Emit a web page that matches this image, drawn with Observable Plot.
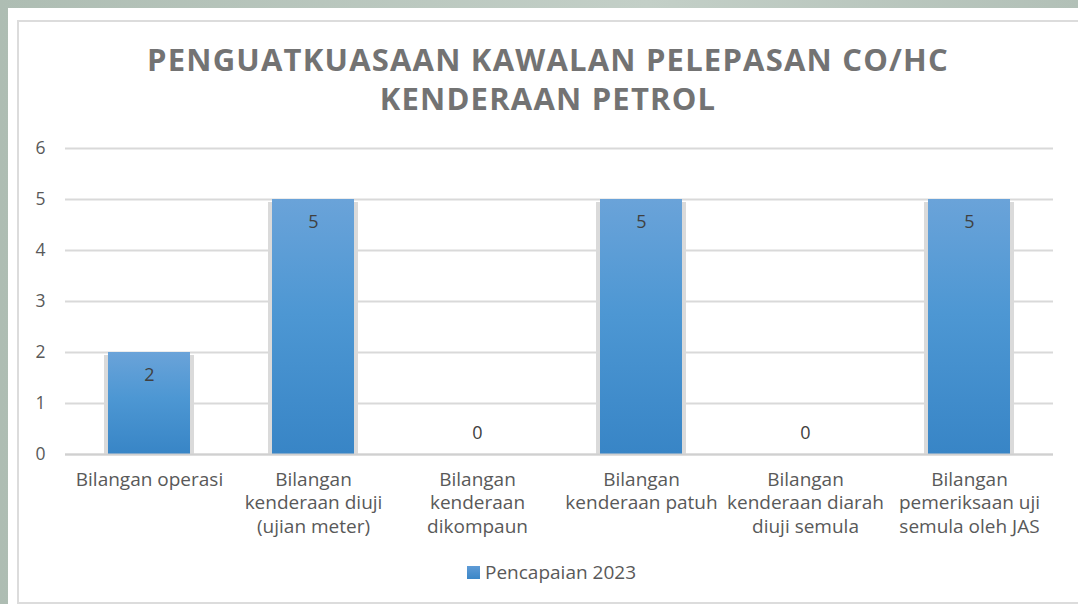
<!DOCTYPE html>
<html>
<head>
<meta charset="utf-8">
<script src="https://cdn.jsdelivr.net/npm/d3@7"></script>
<script src="https://cdn.jsdelivr.net/npm/@observablehq/plot@0.6"></script>
<style>
  html, body { margin: 0; padding: 0; }
  body { width: 1078px; height: 604px; overflow: hidden; position: relative;
         background: linear-gradient(90deg, #aebdb3, #c3cfc7 60%, #b2c0b7); font-family: "Open Sans", sans-serif; }
  #sheet { position: absolute; left: 8px; top: 8px; width: 1080px; height: 600px; background: #fff; }
  #frame { position: absolute; left: 17px; top: 20px; width: 1070px; height: 580px; border: 2px solid #dcdcdc; background: #fff; }
  #title { position: absolute; left: 0; width: 1096px; top: 40px; text-align: center; color: #737373;
           font-weight: 700; font-size: 31px; line-height: 39px; letter-spacing: 1.2px; }
  #chart { position: absolute; left: 0; top: 0; }
  #legend { position: absolute; left: 467px; top: 559px; color: #595959; font-size: 19px; display: flex; align-items: center; }
  #legend span.sw { display: inline-block; width: 13px; height: 13px; margin-right: 5px;
                    background: linear-gradient(#5f9bd6, #3b87c7); }
</style>
</head>
<body>
<div id="sheet"></div>
<div id="frame"></div>
<div id="title">PENGUATKUASAAN KAWALAN PELEPASAN CO/HC<br>KENDERAAN PETROL</div>
<div id="chart"></div>
<div id="legend"><span class="sw"></span>Pencapaian 2023</div>
<script>
const categories = [
  "Bilangan operasi",
  "Bilangan kenderaan diuji (ujian meter)",
  "Bilangan kenderaan dikompaun",
  "Bilangan kenderaan patuh",
  "Bilangan kenderaan diarah diuji semula",
  "Bilangan pemeriksaan uji semula oleh JAS"
];
const tickLabels = [
  "Bilangan operasi",
  "Bilangan\nkenderaan diuji\n(ujian meter)",
  "Bilangan\nkenderaan\ndikompaun",
  "Bilangan\nkenderaan patuh",
  "Bilangan\nkenderaan diarah\ndiuji semula",
  "Bilangan\npemeriksaan uji\nsemula oleh JAS"
];
const values2023 = [2, 5, 0, 5, 0, 5];
const yTicks = [0, 1, 2, 3, 4, 5, 6];

const data = categories.map((c, i) => ({category: c, value: values2023[i]}));
const labelOf = new Map(categories.map((c, i) => [c, tickLabels[i]]));

const chart = Plot.plot({
  width: 1078,
  height: 604,
  marginLeft: 65,
  marginRight: 25,
  marginTop: 148,
  marginBottom: 150,
  style: {background: "transparent", fontFamily: "Open Sans, sans-serif", color: "#595959"},
  x: {domain: categories, paddingInner: 0.5, paddingOuter: 0.25, label: null},
  y: {domain: [0, 6], ticks: yTicks, label: null},
  marks: [
    Plot.ruleY(yTicks, {stroke: "#d9d9d9", strokeWidth: 2}),
    Plot.barY(data, {x: "category", y: "value", fill: "#dadada", insetLeft: -4, insetRight: -4, insetTop: 3}),
    Plot.barY(data, {x: "category", y: "value", fill: "url(#barGrad)"}),
    Plot.ruleY([0], {stroke: "#d0d0d0", strokeWidth: 2}),
    Plot.text(data.filter(d => d.value > 0), {x: "category", y: "value", text: d => String(d.value), dy: 23, fontSize: 18, fill: "#404040"}),
    Plot.text(data.filter(d => d.value === 0), {x: "category", y: "value", text: d => String(d.value), dy: -21, fontSize: 18, fill: "#404040"}),
    Plot.axisY({ticks: yTicks, tickFormat: d3.format("d"), tickSize: 0, tickPadding: 20, fontSize: 17.5, fill: "#595959", label: null}),
    Plot.axisX({tickSize: 0, tickPadding: 14, fontSize: 19, lineHeight: 1.26, fill: "#595959", label: null,
                tickFormat: d => labelOf.get(d), textAnchor: "middle", lineAnchor: "top"})
  ]
});

const ns = "http://www.w3.org/2000/svg";
const defs = document.createElementNS(ns, "defs");
defs.innerHTML = `<linearGradient id="barGrad" x1="0" y1="0" x2="0" y2="1">
  <stop offset="0%" stop-color="#6aa3d9"/>
  <stop offset="45%" stop-color="#4d97d3"/>
  <stop offset="100%" stop-color="#3885c6"/>
</linearGradient>`;
chart.insertBefore(defs, chart.firstChild);
document.getElementById("chart").appendChild(chart);
</script>
</body>
</html>
